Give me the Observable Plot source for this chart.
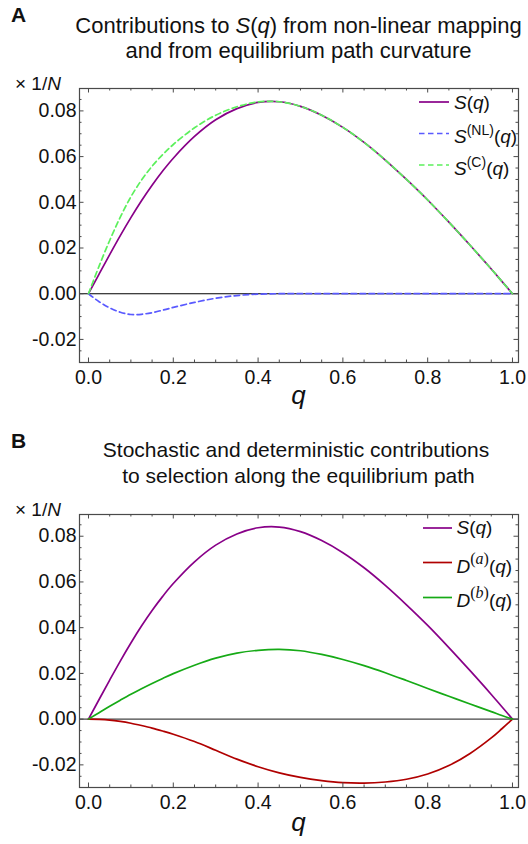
<!DOCTYPE html>
<html><head><meta charset="utf-8">
<script src="https://cdn.jsdelivr.net/npm/d3@7"></script>
<script src="https://cdn.jsdelivr.net/npm/@observablehq/plot@0.6"></script>
<style>
body{margin:0;background:#fff;}
#chart{width:528px;height:844px;overflow:hidden;}
#chart svg{display:block;}
</style></head><body><div id="chart"></div>
<script>
// ---- data ----
const qValues   = [0, 0.025, 0.05, 0.075, 0.1, 0.125, 0.15, 0.175, 0.2, 0.25, 0.3, 0.35, 0.4, 0.45, 0.5, 0.55, 0.6, 0.65, 0.7, 0.75, 0.8, 0.85, 0.9, 0.95, 0.975, 1.0];
const sValues   = [0, 0.0086, 0.0171, 0.0254, 0.0333, 0.0407, 0.0475, 0.0537, 0.0593, 0.0688, 0.0761, 0.0810, 0.0837, 0.0840, 0.0820, 0.0781, 0.0728, 0.0662, 0.0585, 0.0500, 0.0410, 0.0313, 0.0212, 0.0108, 0.0054, 0];
const sNLValues = [0, -0.0035, -0.0062, -0.0081, -0.0091, -0.0090, -0.0083, -0.0072, -0.0060, -0.0038, -0.0020, -0.0008, -0.0002, 0, 0, 0, 0, 0, 0, 0, 0, 0, 0, 0, 0, 0];
const sCValues  = [0, 0.0121, 0.0233, 0.0335, 0.0424, 0.0497, 0.0558, 0.0609, 0.0653, 0.0726, 0.0781, 0.0818, 0.0839, 0.0840, 0.0820, 0.0781, 0.0728, 0.0662, 0.0585, 0.0500, 0.0410, 0.0313, 0.0212, 0.0108, 0.0054, 0];
const dAValues  = [0, -0.0001, -0.0004, -0.0010, -0.0018, -0.0028, -0.0039, -0.0052, -0.0066, -0.0098, -0.0136, -0.0175, -0.0208, -0.0235, -0.0255, -0.0269, -0.0278, -0.0280, -0.0275, -0.0263, -0.0240, -0.0203, -0.0150, -0.0082, -0.0042, 0];
const dBValues  = [0, 0.0028, 0.0056, 0.0083, 0.0109, 0.0133, 0.0156, 0.0178, 0.0199, 0.0236, 0.0267, 0.0289, 0.0301, 0.0305, 0.0299, 0.0283, 0.0261, 0.0234, 0.0203, 0.0169, 0.0134, 0.0100, 0.0066, 0.0033, 0.0016, 0];

const xTickLabels = [0, 0.2, 0.4, 0.6, 0.8, 1.0];
const xMinorTicks = [0.05, 0.1, 0.15, 0.25, 0.3, 0.35, 0.45, 0.5, 0.55, 0.65, 0.7, 0.75, 0.85, 0.9, 0.95];
const yTickLabels = [-0.02, 0, 0.02, 0.04, 0.06, 0.08];
const yMinorTicks = [-0.025, -0.015, -0.01, -0.005, 0.005, 0.01, 0.015, 0.025, 0.03, 0.035, 0.045, 0.05, 0.055, 0.065, 0.07, 0.075, 0.085];

const titleA = ["Contributions to S(q) from non-linear mapping", "and from equilibrium path curvature"];
const titleB = ["Stochastic and deterministic contributions", "to selection along the equilibrium path"];

const rows = qValues.map((q, i) => ({q, S: sValues[i], NL: sNLValues[i], C: sCValues[i], DA: dAValues[i], DB: dBValues[i]}));

// ---- styling ----
const SANS = "'Liberation Sans', Arial, Helvetica, sans-serif";
const SERIF = "'Liberation Serif', 'DejaVu Serif', serif";
const W = 528, H = 422;
const ML = 79, MR = 10;
const FRAME = "#4a4a4a";
const INNER_W = W - ML - MR;
const MAJ = 4.5, MIN = 2.5;

function tickMarks(innerH) {
  return [
    Plot.tickY(yTickLabels, {y: d => d, stroke: FRAME, insetRight: INNER_W - MAJ}),
    Plot.tickY(yMinorTicks, {y: d => d, stroke: FRAME, insetRight: INNER_W - MIN}),
    Plot.tickY(yTickLabels, {y: d => d, stroke: FRAME, insetLeft: INNER_W - MAJ}),
    Plot.tickY(yMinorTicks, {y: d => d, stroke: FRAME, insetLeft: INNER_W - MIN}),
    Plot.tickX(xTickLabels, {x: d => d, stroke: FRAME, insetTop: innerH - MAJ}),
    Plot.tickX(xMinorTicks, {x: d => d, stroke: FRAME, insetTop: innerH - MIN}),
    Plot.tickX(xTickLabels, {x: d => d, stroke: FRAME, insetBottom: innerH - MAJ}),
    Plot.tickX(xMinorTicks, {x: d => d, stroke: FRAME, insetBottom: innerH - MIN})
  ];
}

function richText(g, x, y, parts, {size = 19, anchor = "start", weight = null, sup = -7, supSize = 14} = {}) {
  const t = g.append("text").attr("x", x).attr("y", y)
    .attr("font-size", size).attr("text-anchor", anchor)
    .attr("font-family", SANS).attr("fill", "#111");
  if (weight) t.attr("font-weight", weight);
  let shift = 0;
  for (const p of parts) {
    const o = typeof p === "string" ? {t: p} : p;
    const target = o.sup ? sup : 0;
    const s = t.append("tspan").text(o.t).attr("dy", target - shift);
    shift = target;
    if (o.i) s.attr("font-style", "italic");
    if (o.sup) s.attr("font-size", supSize);
    if (o.serif) s.attr("font-family", SERIF);
  }
  return t;
}

function makePanel({marginTop, marginBottom, yDomain, zeroColor, lines}) {
  const innerH = H - marginTop - marginBottom;
  return Plot.plot({
    width: W, height: H,
    marginLeft: ML, marginRight: MR, marginTop, marginBottom,
    style: {fontFamily: SANS, fontSize: "19px", color: "#111", background: "#fff"},
    x: {domain: [-0.0212, 1.0142]},
    y: {domain: yDomain},
    marks: [
      Plot.ruleY([0], {stroke: zeroColor, strokeWidth: 1.1}),
      ...lines.map(l => Plot.line(rows, {x: "q", y: l.key, stroke: l.color, strokeWidth: 1.7,
        strokeDasharray: l.dash || null, curve: "catmull-rom"})),
      Plot.frame({stroke: FRAME, strokeWidth: 1.2}),
      ...tickMarks(innerH),
      Plot.axisY({ticks: yTickLabels, tickSize: 0, tickPadding: 3, tickFormat: d => d.toFixed(2), label: null, fontSize: 19.5}),
      Plot.axisX({ticks: xTickLabels, tickSize: 0, tickPadding: 8, tickFormat: d => d.toFixed(1), label: null, fontSize: 19.5})
    ]
  });
}

const chart = document.getElementById("chart");

// ---- Panel A ----
const linesA = [
  {key: "S", color: "#880088"},
  {key: "NL", color: "#5a5aff", dash: "5.5,3.5"},
  {key: "C", color: "#5cf05c", dash: "5.5,3.5"}
];
const svgA = makePanel({marginTop: 88, marginBottom: 60, yDomain: [-0.0301, 0.0898], zeroColor: "#000", lines: linesA});
chart.appendChild(svgA);
{
  const g = d3.select(svgA).append("g");
  richText(g, 11, 22, ["A"], {size: 21, weight: "bold"});
  richText(g, 298.5, 33, ["Contributions to ", {t: "S", i: true}, "(", {t: "q", i: true}, ") from non-linear mapping"], {size: 22, anchor: "middle"});
  richText(g, 298.5, 58, [titleA[1]], {size: 22, anchor: "middle"});
  richText(g, 15, 90, ["× 1/", {t: "N", i: true}], {size: 19});
  richText(g, 298.5, 404, [{t: "q", i: true}], {size: 26, anchor: "middle"});
  const leg = [
    {ly: 102, ty: 109, color: linesA[0].color, dash: null, parts: [{t: "S", i: true}, "(", {t: "q", i: true}, ")"]},
    {ly: 133.5, ty: 143, color: linesA[1].color, dash: linesA[1].dash, parts: [{t: "S", i: true}, {t: "(NL)", sup: true}, "(", {t: "q", i: true}, ")"]},
    {ly: 165, ty: 175, color: linesA[2].color, dash: linesA[2].dash, parts: [{t: "S", i: true}, {t: "(C)", sup: true}, "(", {t: "q", i: true}, ")"]}
  ];
  for (const r of leg) {
    g.append("line").attr("x1", 419).attr("x2", 449).attr("y1", r.ly).attr("y2", r.ly)
      .attr("stroke", r.color).attr("stroke-width", 1.7).attr("stroke-dasharray", r.dash);
    richText(g, 454, r.ty, r.parts, {size: 19, sup: -8, supSize: 14});
  }
}

// ---- Panel B ----
const linesB = [
  {key: "S", color: "#880088"},
  {key: "DA", color: "#b00000"},
  {key: "DB", color: "#16aa16"}
];
const svgB = makePanel({marginTop: 92, marginBottom: 57, yDomain: [-0.0299, 0.0895], zeroColor: "#444", lines: linesB});
chart.appendChild(svgB);
{
  const g = d3.select(svgB).append("g");
  richText(g, 11, 26, ["B"], {size: 21, weight: "bold"});
  richText(g, 296, 35.3, [titleB[0]], {size: 21, anchor: "middle"});
  richText(g, 298.5, 61.3, [titleB[1]], {size: 21, anchor: "middle"});
  richText(g, 15, 94, ["× 1/", {t: "N", i: true}], {size: 19});
  richText(g, 298.5, 409, [{t: "q", i: true}], {size: 26, anchor: "middle"});
  const leg = [
    {ly: 106, ty: 112, color: linesB[0].color, parts: [{t: "S", i: true}, "(", {t: "q", i: true}, ")"]},
    {ly: 140.5, ty: 150.5, color: linesB[1].color, parts: [{t: "D", i: true}, {t: "(", sup: true, serif: true}, {t: "a", sup: true, serif: true, i: true}, {t: ")", sup: true, serif: true}, "(", {t: "q", i: true}, ")"]},
    {ly: 175.5, ty: 185, color: linesB[2].color, parts: [{t: "D", i: true}, {t: "(", sup: true, serif: true}, {t: "b", sup: true, serif: true, i: true}, {t: ")", sup: true, serif: true}, "(", {t: "q", i: true}, ")"]}
  ];
  for (const r of leg) {
    g.append("line").attr("x1", 423).attr("x2", 452).attr("y1", r.ly).attr("y2", r.ly)
      .attr("stroke", r.color).attr("stroke-width", 1.7);
    richText(g, 456.5, r.ty, r.parts, {size: 19, sup: -9, supSize: 16});
  }
}
</script>
</body></html>
